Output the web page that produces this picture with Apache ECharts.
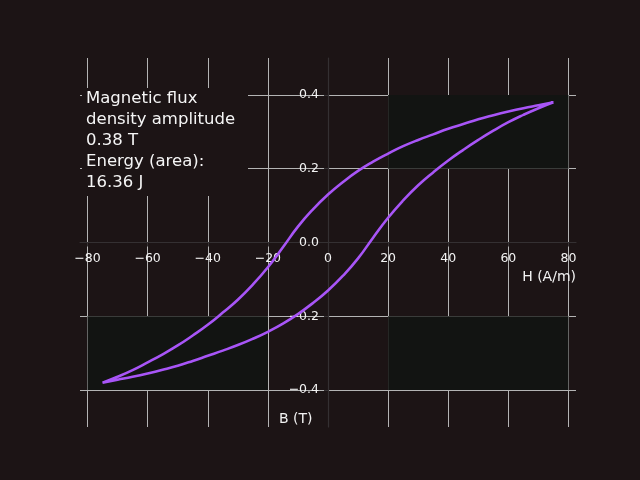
<!DOCTYPE html>
<html>
<head>
<meta charset="utf-8">
<script src="https://cdn.jsdelivr.net/npm/echarts@6/dist/echarts.min.js"></script>
<style>html,body{margin:0;padding:0;background:#1c1415;}#c{width:640px;height:480px;}</style>
</head>
<body>
<div id="c"></div>
<script>
// Descending (upper) branch of the hysteresis loop
const upperH = [75, 70, 65, 60, 55, 50, 45, 40, 35, 30, 25, 20, 15, 10, 5, 0, -5, -10, -15, -20, -25, -30, -35, -40, -45, -50, -55, -60, -65, -70, -75];
const upperB = [0.380, 0.372, 0.364, 0.355, 0.345, 0.334, 0.321, 0.308, 0.293, 0.278, 0.261, 0.241, 0.219, 0.194, 0.164, 0.130, 0.090, 0.043, -0.013, -0.067, -0.114, -0.155, -0.190, -0.223, -0.252, -0.279, -0.303, -0.325, -0.346, -0.364, -0.380];
// Ascending (lower) branch
const lowerH = [-75, -70, -65, -60, -55, -50, -45, -40, -35, -30, -25, -20, -15, -10, -5, 0, 5, 10, 15, 20, 25, 30, 35, 40, 45, 50, 55, 60, 65, 70, 75];
const lowerB = [-0.380, -0.372, -0.364, -0.355, -0.345, -0.334, -0.321, -0.307, -0.293, -0.278, -0.261, -0.242, -0.220, -0.194, -0.164, -0.130, -0.090, -0.043, 0.013, 0.067, 0.114, 0.155, 0.190, 0.222, 0.251, 0.278, 0.303, 0.326, 0.346, 0.364, 0.380];

const xTicks = [-80, -60, -40, -20, 0, 20, 40, 60, 80];
const yTicks = [-0.4, -0.2, 0, 0.2, 0.4];
const xRange = [-82.5, 82.5];
const yRange = [-0.5, 0.5];

// shaded grid cells [x1, y1, x2, y2] in data units
const shadedCells = [
  [20, 0.2, 80, 0.4],
  [20, -0.4, 80, -0.2],
  [-80, -0.4, -20, -0.2]
];

const infoLines = ['Magnetic flux', 'density amplitude', '0.38 T', 'Energy (area):', '16.36 J'];
const xName = 'H (A/m)';
const yName = 'B (T)';

const loopData = upperH.map((h, i) => [h, upperB[i]]).concat(lowerH.slice(1).map((h, i) => [h, lowerB[i + 1]]));

const FONT = 'DejaVu Sans';
const minus = s => String(s).replace('-', '\u2212');

const GRID = {left: 80, right: 64, top: 58, bottom: 53};
const W = 640 - GRID.left - GRID.right;
const H = 480 - GRID.top - GRID.bottom;

const chart = echarts.init(document.getElementById('c'), null, {renderer: 'canvas'});
chart.setOption({
  backgroundColor: '#1c1415',
  animation: false,
  grid: Object.assign({containLabel: false}, GRID),
  xAxis: {
    type: 'value', min: xRange[0], max: xRange[1], position: 'bottom',
    offset: -H / 2,
    axisLine: {show: true, onZero: false, lineStyle: {color: '#343032', width: 1.2}},
    axisTick: {show: true, customValues: xTicks, length: 4, lineStyle: {color: '#343032'}},
    axisLabel: {customValues: xTicks, color: '#f2f2f2', fontFamily: FONT, fontSize: 12.5, margin: 10,
      formatter: v => minus(v)},
    splitLine: {show: true, lineStyle: {color: '#b4b4b4', width: 1}}
  },
  yAxis: {
    type: 'value', min: yRange[0], max: yRange[1], position: 'left',
    offset: -W / 2,
    axisLine: {show: true, onZero: false, lineStyle: {color: '#343032', width: 1.2}},
    axisTick: {show: true, customValues: yTicks, length: 4, lineStyle: {color: '#343032'}},
    axisLabel: {customValues: yTicks, color: '#f2f2f2', fontFamily: FONT, fontSize: 12.5, margin: 9,
      formatter: v => minus(Number(v).toFixed(1))},
    splitLine: {show: true, lineStyle: {color: '#b4b4b4', width: 1}}
  },
  series: [{
    type: 'line',
    data: loopData,
    showSymbol: false,
    smooth: 0.5,
    lineStyle: {color: '#a855f7', width: 2.6},
    z: 5,
    markArea: {
      silent: true,
      itemStyle: {color: '#121412'},
      data: shadedCells.map(c => [{coord: [c[0], c[1]]}, {coord: [c[2], c[3]]}])
    }
  }],
  graphic: [
    {type: 'rect', z: 100, shape: {x: 82, y: 88, width: 166, height: 108}, style: {fill: '#1c1415'}},
    {type: 'text', z: 101, left: 86, top: 88,
      style: {text: infoLines.join('\n'), fill: '#f5f5f5', font: '16.5px "DejaVu Sans"', lineHeight: 21}},
    {type: 'text', z: 101, right: 64, top: 270,
      style: {text: xName, fill: '#f2f2f2', font: '14px "DejaVu Sans"', align: 'right'}},
    {type: 'text', z: 101, left: 279, top: 412,
      style: {text: yName, fill: '#f2f2f2', font: '14px "DejaVu Sans"'}}
  ]
});
</script>
</body>
</html>
